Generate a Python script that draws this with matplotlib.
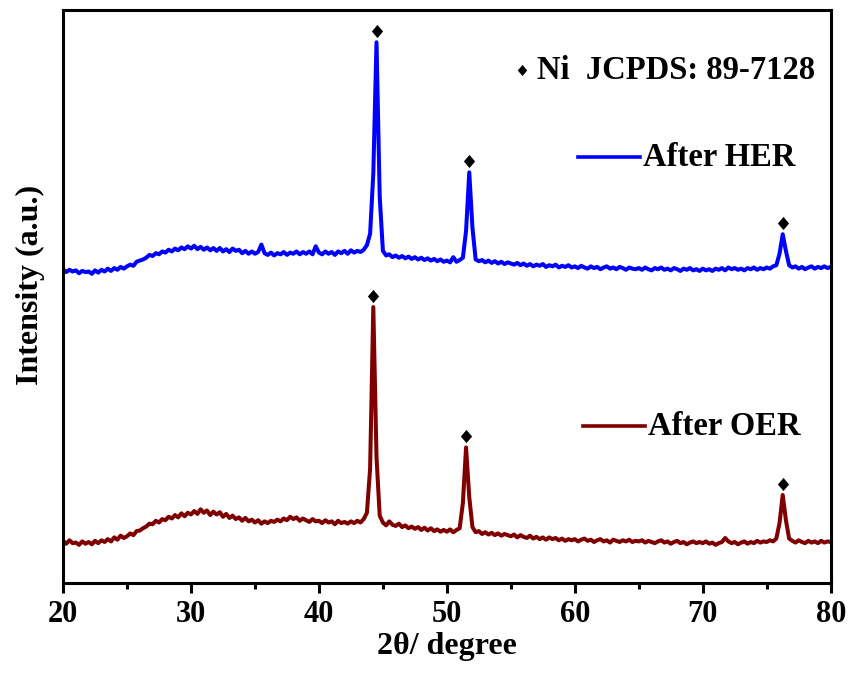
import matplotlib
matplotlib.use("Agg")
import matplotlib.pyplot as plt
import numpy as np
from matplotlib.ticker import MultipleLocator

plt.rcParams['font.family'] = ['Liberation Serif', 'DejaVu Serif']
plt.rcParams['font.weight'] = 'bold'

# 2theta grid of the scan (0.25 deg step), intensities (a.u.)
two_theta = np.round(np.arange(20.0, 80.001, 0.25), 2)

oer_y = [7.4, 6.9, 7.5, 7.0, 7.1, 6.7, 7.3, 6.9, 7.2, 6.8, 7.4, 7.0, 7.5, 7.2, 7.7, 7.3, 8.0, 7.6, 8.3, 7.9,
         8.2, 8.7, 8.4, 9.1, 9.2, 9.6, 9.9, 10.4, 10.3, 10.9, 10.6, 11.2, 11.0, 11.6, 11.3, 11.9, 11.5, 12.2, 11.7, 12.3,
         12.0, 12.6, 12.1, 12.9, 12.3, 12.7, 11.9, 12.5, 12.0, 12.4, 11.6, 12.1, 11.4, 11.8, 11.2, 11.5, 10.9, 11.4, 10.8, 11.1,
         10.6, 11.0, 10.4, 10.8, 10.5, 10.9, 10.7, 11.1, 10.8, 11.3, 11.0, 11.6, 11.2, 11.5, 10.9, 11.3, 11.0, 10.7, 11.2, 10.8,
         10.9, 10.5, 11.0, 10.6, 10.8, 10.3, 10.9, 10.5, 10.7, 10.4, 10.8, 10.5, 10.9, 10.6, 11.2, 12.3, 20.0, 48.2, 22.0, 11.8,
         10.6, 10.1, 10.8, 10.2, 10.0, 10.4, 9.8, 10.1, 9.6, 9.9, 9.5, 9.8, 9.3, 9.7, 9.2, 9.6, 9.1, 9.4, 9.0, 9.3,
         9.0, 9.4, 8.9, 9.3, 9.6, 14.0, 23.7, 15.0, 9.8, 8.9, 9.1, 8.6, 8.9, 8.5, 8.8, 8.4, 8.7, 8.3, 8.6, 8.4,
         8.2, 8.5, 8.0, 8.4, 8.1, 7.9, 8.3, 7.8, 8.1, 7.7, 8.0, 7.6, 8.0, 7.7, 7.9, 7.5, 7.8, 7.4, 7.7, 7.5,
         7.7, 7.3, 7.6, 7.8, 7.4, 7.6, 7.2, 7.5, 7.7, 7.3, 7.5, 7.1, 7.6, 7.4, 7.2, 7.5, 7.3, 7.6, 7.2, 7.4,
         7.3, 7.5, 7.1, 7.4, 7.2, 7.0, 7.3, 7.5, 7.1, 7.3, 6.9, 7.2, 7.4, 7.0, 7.2, 6.8, 7.1, 7.3, 7.0, 7.2,
         7.0, 7.3, 6.9, 7.1, 6.7, 7.0, 7.2, 7.9, 7.3, 7.0, 7.2, 6.8, 7.1, 7.3, 6.9, 7.2, 7.0, 7.4, 7.1, 7.3,
         7.2, 7.5, 7.3, 7.8, 10.5, 15.4, 11.0, 7.8, 7.4, 7.1, 7.5, 7.2, 7.0, 7.4, 7.1, 7.3, 7.0, 7.4, 7.1, 7.3,
         7.2]

her_y = [7.3, 6.8, 7.2, 6.9, 7.1, 6.6, 7.0, 6.8, 6.9, 6.5, 7.1, 6.7, 7.2, 6.9, 7.4, 7.0, 7.5, 7.2, 7.7, 7.4,
         7.8, 8.1, 7.9, 8.6, 8.8, 9.0, 9.3, 9.8, 9.6, 10.1, 9.9, 10.4, 10.2, 10.7, 10.4, 10.9, 10.6, 11.1, 10.8, 11.3,
         10.9, 11.4, 10.8, 11.2, 10.7, 11.1, 10.6, 11.0, 10.5, 11.0, 10.4, 10.8, 10.3, 10.9, 10.5, 10.7, 10.1, 10.5, 10.0, 10.4,
         10.0, 10.3, 11.6, 10.1, 9.8, 10.2, 9.7, 10.1, 9.9, 10.3, 9.8, 10.2, 10.0, 10.4, 9.9, 10.3, 10.0, 10.4, 9.9, 11.3,
         10.2, 9.9, 10.4, 10.0, 10.3, 9.8, 10.4, 10.1, 10.5, 10.0, 10.6, 10.2, 10.5, 10.3, 10.7, 11.5, 13.5, 24.0, 46.9, 20.0,
         10.5, 9.7, 9.9, 9.4, 9.7, 9.3, 9.6, 9.2, 9.5, 9.1, 9.4, 9.0, 9.3, 8.9, 9.2, 8.8, 9.1, 8.7, 9.0, 8.6,
         8.8, 8.5, 9.4, 8.6, 8.9, 9.3, 14.0, 24.2, 14.5, 9.0, 8.7, 8.9, 8.5, 8.8, 8.4, 8.7, 8.3, 8.6, 8.2, 8.5,
         8.3, 8.1, 8.4, 8.0, 8.3, 7.9, 8.2, 7.8, 8.1, 7.9, 8.2, 7.7, 8.0, 7.8, 8.1, 7.6, 7.9, 7.7, 8.0, 7.6,
         7.8, 7.5, 7.9, 7.6, 7.4, 7.8, 7.5, 7.7, 7.3, 7.6, 7.8, 7.4, 7.6, 7.3, 7.7, 7.5, 7.2, 7.6, 7.4, 7.3,
         7.5, 7.2, 7.6, 7.3, 7.1, 7.5, 7.3, 7.6, 7.2, 7.4, 7.1, 7.5, 7.3, 7.0, 7.4, 7.2, 7.5, 7.1, 7.3, 7.0,
         7.4, 7.1, 7.3, 7.0, 7.4, 7.2, 7.5, 7.1, 7.6, 7.3, 7.5, 7.2, 7.4, 7.1, 7.5, 7.3, 7.6, 7.2, 7.5, 7.3,
         7.6, 7.4, 7.8, 8.0, 10.0, 13.4, 10.5, 8.0, 7.6, 7.8, 7.4, 7.7, 7.3, 7.6, 7.8, 7.4, 7.7, 7.5, 7.8, 7.5,
         7.7]
her_offset = 47.5

# Ni reflections (JCPDS 89-7128)
her_peaks = [44.5, 51.75, 76.25]
oer_peaks = [44.25, 51.5, 76.25]

fig = plt.figure(figsize=(8.52, 6.79), dpi=100)
ax = fig.add_axes([0.074, 0.141, 0.901, 0.844])

her_plot = np.array(her_y) + her_offset
ax.plot(two_theta, her_plot, color='#0000ff', lw=2.9)
ax.plot(two_theta, oer_y, color='#800000', lw=2.9)

diamond = [(0, 1), (0.85, 0), (0, -1), (-0.85, 0), (0, 1)]
gap = 2.0
ax.plot(her_peaks, np.interp(her_peaks, two_theta, her_plot) + gap,
        ls='none', marker=diamond, ms=9.5, color='k', mew=0)
ax.plot(oer_peaks, np.interp(oer_peaks, two_theta, oer_y) + gap,
        ls='none', marker=diamond, ms=9.5, color='k', mew=0)

# legend drawn by hand like in the figure
ax.plot([0.598], [0.895], ls='none', marker=diamond, ms=8, color='k', mew=0,
        transform=ax.transAxes)
ax.text(0.617, 0.895, 'Ni  JCPDS: 89-7128', transform=ax.transAxes,
        fontsize=23.5, fontweight='bold', va='center', ha='left')
ax.plot([0.671, 0.751], [0.743, 0.743], color='#0000ff', lw=2.6, transform=ax.transAxes)
ax.text(0.755, 0.743, 'After HER', transform=ax.transAxes,
        fontsize=23.5, fontweight='bold', va='center', ha='left')
ax.plot([0.677, 0.758], [0.274, 0.274], color='#800000', lw=2.6, transform=ax.transAxes)
ax.text(0.762, 0.274, 'After OER', transform=ax.transAxes,
        fontsize=23.5, fontweight='bold', va='center', ha='left')

ax.set_xlim(20, 80)
ax.set_ylim(0, 100)
ax.xaxis.set_major_locator(MultipleLocator(10))
ax.xaxis.set_minor_locator(MultipleLocator(5))
ax.tick_params(axis='x', which='major', direction='out', length=7, width=2.2,
               labelsize=22, pad=5)
ax.tick_params(axis='x', which='minor', direction='out', length=4, width=2.2)
ax.set_yticks([])
for lbl in ax.get_xticklabels():
    lbl.set_fontweight('bold')
for sp in ax.spines.values():
    sp.set_linewidth(2.2)

ax.set_xlabel('2θ/ degree', fontsize=23, fontweight='bold', labelpad=2)
ax.set_ylabel('Intensity (a.u.)', fontsize=23, fontweight='bold')
ax.yaxis.set_label_coords(-0.024, 0.52)

fig.savefig('out.png', dpi=100)
